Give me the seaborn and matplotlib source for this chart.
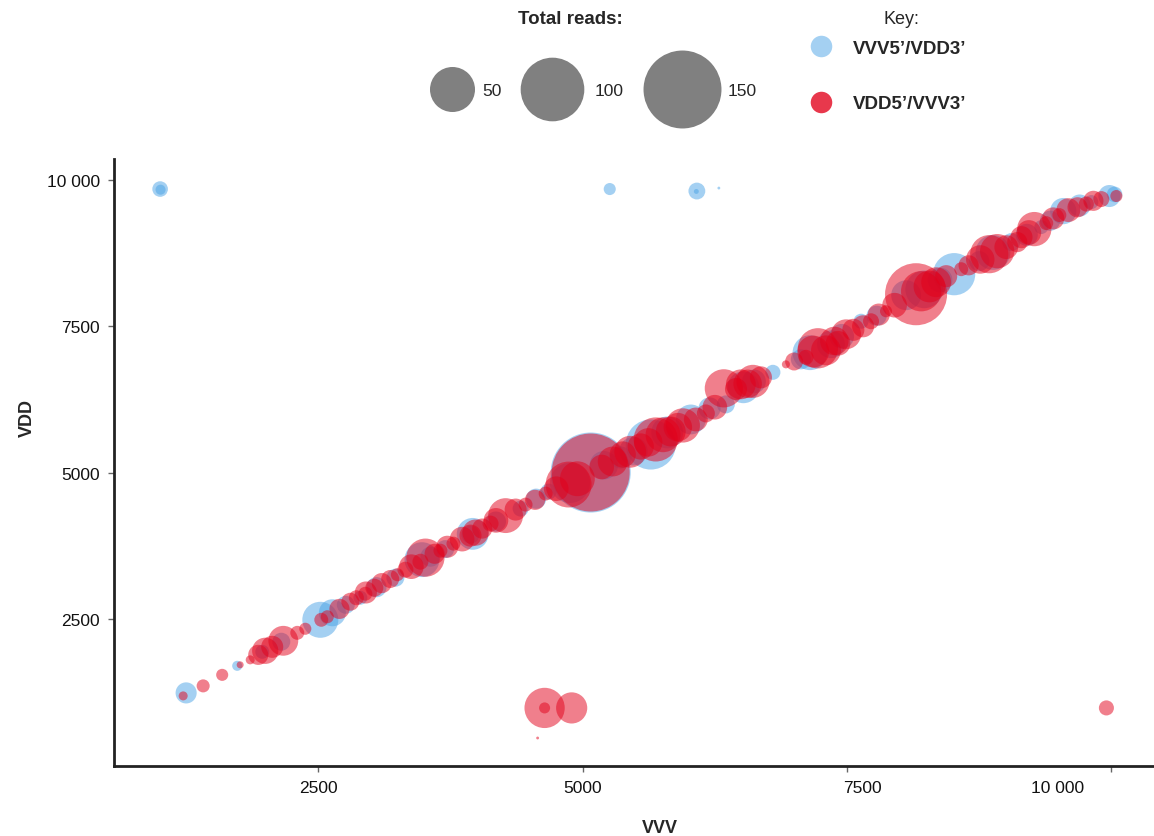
import matplotlib
matplotlib.use("Agg")
import matplotlib.pyplot as plt
import matplotlib.transforms as mtransforms
from matplotlib.lines import Line2D
from matplotlib.ticker import FixedLocator
import numpy as np
import pandas as pd
import seaborn as sns

# ---- data -------------------------------------------------------------
blue_label = "VVV5’/VDD3’"
red_label = "VDD5’/VVV3’"

blue_vvv = [1004, 1008, 5256, 6080, 6075, 6288, 1250, 1733, 1970, 2150,
            2519, 2633, 2760, 2898, 3050, 3229, 3480, 3561, 3700, 3939,
            3960, 4180, 4413, 4560, 4678, 4880, 5076, 5200, 5360, 5480,
            5644, 5800, 6023, 6200, 6354, 6520, 6620, 6799, 7064, 7150,
            7348, 7450, 7633, 7780, 8059, 8230, 8380, 8513, 8750, 8880,
            9053, 9200, 9337, 9420, 9545, 9700, 9811, 9981, 10030]
blue_vdd = [9841, 9830, 9841, 9807, 9800, 9858, 1247, 1709, 1948, 2120,
            2494, 2614, 2750, 2870, 3050, 3212, 3520, 3571, 3700, 3947,
            3960, 4170, 4391, 4560, 4681, 4830, 5006, 5130, 5262, 5370,
            5484, 5690, 5911, 6100, 6168, 6460, 6560, 6715, 6937, 7050,
            7193, 7330, 7586, 7680, 8030, 8130, 8290, 8389, 8611, 8760,
            8936, 9060, 9192, 9300, 9465, 9560, 9619, 9722, 9750]
blue_reads = [6, 2.5, 3.6, 7, 0.6, 0.2, 11, 2.5, 4.8, 8,
              32, 18, 8, 4.8, 10, 8, 30, 10, 8, 8,
              25, 10, 6.3, 10, 6.3, 40, 158, 20, 12, 20,
              62, 25, 22, 12, 8, 25, 14, 5.6, 10, 30,
              19, 15, 5.6, 10, 22, 35, 15, 44, 10, 30,
              8, 12, 4.8, 10, 17, 12, 4.8, 12, 6]

red_vvv = [1222, 1411, 1591, 1761, 1856, 1932, 1998, 2064, 2169, 2301,
           2377, 2528, 2585, 2700, 2803, 2860, 2945, 2950, 3030, 3100,
           3180, 3248, 3324, 3380, 3466, 3513, 3600, 3655, 3720, 3778,
           3860, 3939, 3987, 4050, 4129, 4180, 4271, 4366, 4460, 4550,
           4650, 4750, 4867, 4950, 5076, 5180, 5284, 5379, 5450, 5549,
           5620, 5691, 5760, 5833, 5900, 5947, 6070, 6165, 6250, 6335,
           6450, 6496, 6560, 6610, 6686, 6922, 7000, 7112, 7180, 7225,
           7301, 7380, 7415, 7491, 7560, 7652, 7727, 7800, 7869, 7950,
           8153, 8201, 8280, 8343, 8438, 8580, 8650, 8760, 8845, 8920,
           9006, 9110, 9150, 9220, 9271, 9384, 9450, 9508, 9593, 9680,
           9763, 9830, 9905, 10047,
           4640, 4640, 4896, 4574, 9953]
red_vdd = [1196, 1367, 1555, 1726, 1811, 1896, 1965, 2033, 2136, 2272,
           2341, 2494, 2546, 2680, 2802, 2870, 2939, 2960, 3041, 3120,
           3190, 3263, 3349, 3400, 3485, 3554, 3620, 3673, 3740, 3793,
           3870, 3930, 3981, 4050, 4135, 4190, 4271, 4374, 4459, 4540,
           4647, 4730, 4801, 4900, 5006, 5100, 5194, 5314, 5360, 5450,
           5520, 5570, 5650, 5706, 5780, 5809, 5911, 6014, 6120, 6442,
           6430, 6510, 6520, 6561, 6629, 6851, 6900, 6971, 7070, 7125,
           7090, 7250, 7210, 7364, 7440, 7500, 7586, 7700, 7757, 7860,
           8047, 8098, 8180, 8252, 8355, 8474, 8540, 8640, 8730, 8782,
           8850, 8936, 9020, 9100, 9158, 9260, 9340, 9397, 9482, 9530,
           9585, 9640, 9670, 9722,
           991, 991, 991, 478, 991]
red_reads = [2, 4.2, 3.6, 1.2, 2, 10, 17, 12, 22, 4.8,
             3.6, 4.8, 4.2, 10, 8, 5.6, 4.8, 12, 8, 10,
             8, 4.2, 6.3, 15, 6.3, 36, 10, 4.8, 12, 4.8,
             15, 12, 17, 10, 6.3, 15, 30, 12, 4.8, 10,
             4.8, 15, 52, 30, 150, 15, 22, 17, 25, 17,
             20, 48, 30, 22, 20, 29, 14, 8, 15, 36,
             12, 22, 20, 27, 12, 1.6, 8, 5.6, 25, 40,
             22, 20, 15, 22, 12, 12, 6.3, 12, 3.6, 15,
             95, 40, 25, 22, 12, 4.8, 10, 20, 36, 29,
             14, 10, 12, 15, 29, 4.8, 12, 4.8, 14, 10,
             5.6, 10, 6.3, 3.6,
             40, 3, 24, 0.2, 5.6]

legend_reads = [50, 100, 150]
x_ticks = [2500, 5000, 7500, 10000]
y_ticks = [2500, 5000, 7500, 10000]
tick_labels = ["2500", "5000", "7500", "10 000"]

# ---- styling ----------------------------------------------------------
sns.set_theme(style="ticks")
plt.rcParams["font.family"] = ["Liberation Sans", "DejaVu Sans"]

palette = {blue_label: "#4AA3E6", red_label: "#E2001A"}
area_per_read = 21.0  # points^2 per read

df = pd.DataFrame({
    "VVV": blue_vvv + red_vvv,
    "VDD": blue_vdd + red_vdd,
    "reads": blue_reads + red_reads,
    "type": [blue_label] * len(blue_vvv) + [red_label] * len(red_vvv),
})

W, H = 1154, 837
fig = plt.figure(figsize=(W / 100, H / 100), dpi=100)
ax = fig.add_axes([0.0988, 0.0836, 0.9, 0.725])

sns.scatterplot(
    data=df, x="VVV", y="VDD", hue="type", size="reads",
    palette=palette, size_norm=(0, 200), sizes=(0, 200 * area_per_read),
    alpha=0.5, linewidth=0, legend=False, ax=ax,
)

ax.set_xlim(568, 10390)
ax.set_ylim(0, 10350)
ax.xaxis.set_major_locator(FixedLocator(x_ticks))
ax.yaxis.set_major_locator(FixedLocator(y_ticks))
ax.set_xticklabels(tick_labels)
ax.set_yticklabels(tick_labels)
ax.tick_params(axis="both", labelsize=12.5, length=4, width=1,
               color="#666666", labelcolor="#111111", pad=6)

# the two upper x labels sit a little off their ticks
x_label_shift = {"7500": 15, "10 000": -54}
for lab in ax.get_xticklabels():
    dx = x_label_shift.get(lab.get_text(), 0)
    if dx:
        lab.set_transform(lab.get_transform() +
                          mtransforms.ScaledTranslation(dx / 100, 0, fig.dpi_scale_trans))

sns.despine(ax=ax)
for side in ("left", "bottom"):
    ax.spines[side].set_linewidth(2)
    ax.spines[side].set_color("#222222")

ax.set_xlabel("VVV", fontsize=13, fontweight="bold")
ax.xaxis.set_label_coords(0.526, -0.088)
ax.set_ylabel("VDD", fontsize=13, fontweight="bold")
ax.yaxis.set_label_coords(-0.075, 0.575)

# ---- size legend (one entry per circle) --------------------------------
fs_px = 12.5 * 100 / 72
circle_x = [452, 552, 682]
label_x = [482, 595, 728]
for r, cx, lx in zip(legend_reads, circle_x, label_x):
    h = Line2D([], [], linestyle="", marker="o",
               markersize=np.sqrt(area_per_read * r),
               markerfacecolor="#808080", markeredgewidth=0)
    leg = fig.legend([h], [str(r)], loc="center left",
                     bbox_to_anchor=((cx - fs_px / 2) / W, 1 - 91 / H),
                     frameon=False, fontsize=12.5, handlelength=1.0,
                     handletextpad=(lx - cx - fs_px / 2) / fs_px, borderpad=0,
                     borderaxespad=0)
fig.text(570 / W, 1 - 20 / H, "Total reads:", ha="center", va="center",
         fontsize=13.5, fontweight="bold")

# ---- key legend -------------------------------------------------------
key_fs = 13.5
key_px = key_fs * 100 / 72
key_handles = [
    Line2D([], [], linestyle="", marker="o", markersize=15.5,
           markerfacecolor=c, markeredgewidth=0, alpha=a)
    for c, a in ((palette[blue_label], 0.5), (palette[red_label], 0.78))
]
leg2 = fig.legend(key_handles, [blue_label, red_label], loc="center left",
                  bbox_to_anchor=((821 - key_px / 2) / W, 1 - 77 / H),
                  frameon=False, fontsize=key_fs, handlelength=1.0,
                  handletextpad=(853 - 821 - key_px / 2) / key_px,
                  labelspacing=2.05, borderpad=0, borderaxespad=0)
for t in leg2.get_texts():
    t.set_fontweight("bold")
fig.text(901 / W, 1 - 20 / H, "Key:", ha="center", va="center", fontsize=13)

fig.savefig("out.png", dpi=100)
